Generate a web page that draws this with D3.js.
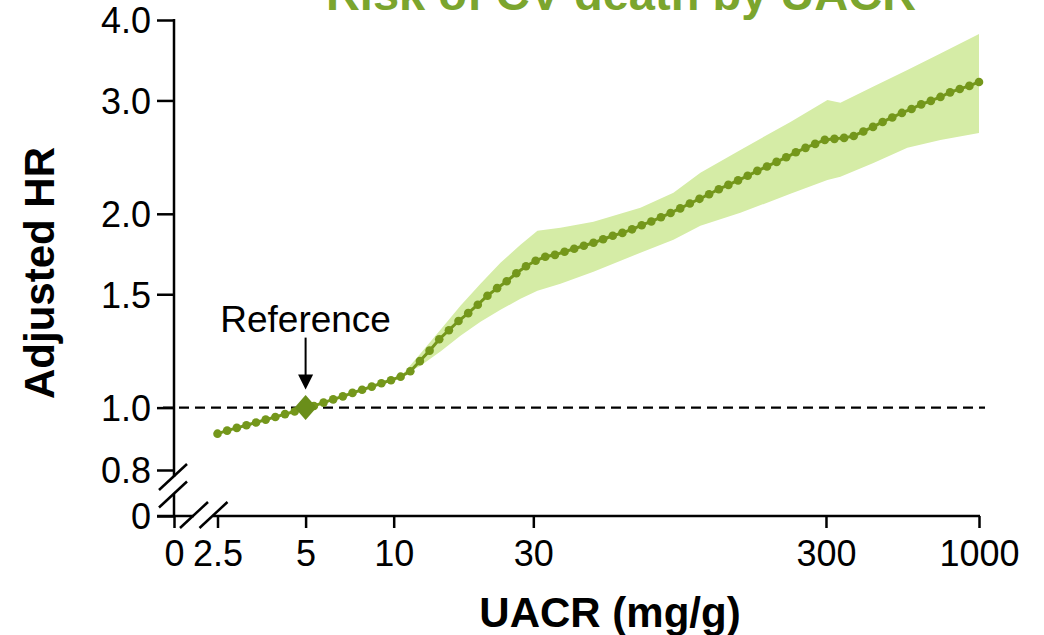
<!DOCTYPE html>
<html><head><meta charset="utf-8">
<script src="https://cdn.jsdelivr.net/npm/d3@7"></script>
<style>
body{margin:0;background:#fff}
text{font-family:"Liberation Sans",Arial,Helvetica,sans-serif}
</style>
</head><body>
<svg id="c" width="1044" height="635"></svg>
<script>
// ---------- DATA ----------
const uacr = [2.5,2.697,2.910,3.139,3.386,3.653,3.941,4.252,4.587,4.948,
  5.338,5.759,6.213,6.703,7.231,7.801,8.416,9.079,9.791,10.56,
  11.40,12.29,13.26,14.31,15.44,16.65,17.97,19.38,20.91,22.56,
  24.33,26.25,28.32,30.55,32.96,35.56,38.36,41.38,44.64,48.16,
  51.95,56.05,60.46,65.23,70.37,75.91,81.89,88.35,95.31,102.8,
  110.9,119.6,129.1,139.2,150.2,162.0,174.8,188.6,203.4,219.4,
  236.7,255.4,275.5,297.2,320.6,345.9,373.1,402.5,434.3,468.5,
  505.4,545.2,588.2,634.5,684.5,738.5,796.7,859.4,927.2,1000];
const hr = [0.911,0.921,0.930,0.939,0.948,0.958,0.967,0.977,0.986,0.996,
  1.006,1.018,1.030,1.041,1.054,1.066,1.078,1.091,1.103,1.117,
  1.139,1.181,1.226,1.277,1.319,1.363,1.402,1.445,1.492,1.533,
  1.571,1.617,1.658,1.691,1.715,1.727,1.746,1.765,1.784,1.803,
  1.826,1.849,1.868,1.892,1.920,1.946,1.975,2.006,2.039,2.075,
  2.110,2.145,2.184,2.218,2.254,2.291,2.332,2.369,2.408,2.448,
  2.492,2.532,2.568,2.605,2.615,2.624,2.642,2.685,2.729,2.778,
  2.823,2.869,2.910,2.958,2.995,3.038,3.088,3.126,3.160,3.205];
const ciUacr = [10.55,12.35,14.45,16.91,19.80,23.17,27.12,30.99,37.14,48.15,
  69.68,90.36,111.7,153.0,226.8,303.4,336.1,435.8,569.2,738.2,1000];
const ciLow  = [1.117,1.162,1.222,1.293,1.360,1.419,1.476,1.519,1.557,1.626,
  1.740,1.822,1.916,2.007,2.148,2.258,2.283,2.399,2.532,2.605,2.671];
const ciHigh = [1.117,1.213,1.321,1.439,1.557,1.679,1.790,1.882,1.902,1.944,
  2.043,2.156,2.316,2.513,2.778,3.006,2.974,3.154,3.345,3.548,3.805];
const yTicks = [0.8, 1.0, 1.5, 2.0, 3.0, 4.0];
const xTicks = [2.5, 5, 10, 30, 300, 1000];
const xTickLabels = ["2.5","5","10","30","300","1000"];
const refUacr = 5, refHr = 1.0;
const title = "Risk of CV death by UACR";
const xTitle = "UACR (mg/g)";
const yTitle = "Adjusted HR";
const refLabel = "Reference";

// ---------- LAYOUT ----------
const axisX = 174, axisY = 516;
const green = "#74971b", band = "#d5eca6", titleGreen = "#7ba52e";
const tickFont = 36;
const svg = d3.select("#c");

const x = d3.scaleLog().domain([2.5, 1000]).range([217.5, 979]);
const y = d3.scaleLog().domain([0.8, 4]).range([470, 20]);

// title (partly cut off at top, as in the reference)
svg.append("text").attr("x", 621).attr("y", 10).attr("text-anchor","middle")
  .attr("font-size", 47).attr("font-weight","bold").attr("fill", titleGreen).text(title);

// CI band
const bandData = ciUacr.map((u,i)=>({u, lo:ciLow[i], hi:ciHigh[i]}));
svg.append("path").datum(bandData)
  .attr("d", d3.area().x(d=>x(d.u)).y0(d=>y(d.lo)).y1(d=>y(d.hi)))
  .attr("fill", band).attr("stroke","none");

// dashed reference line
svg.append("line").attr("x1", 163).attr("x2", 985)
  .attr("y1", y(refHr)).attr("y2", y(refHr))
  .attr("stroke","#000").attr("stroke-width",2.2).attr("stroke-dasharray","10,6");

// curve + dots
const pts = uacr.map((u,i)=>({u, h:hr[i]}));
svg.append("path").datum(pts)
  .attr("d", d3.line().x(d=>x(d.u)).y(d=>y(d.h)))
  .attr("fill","none").attr("stroke", green).attr("stroke-width",3);
svg.selectAll("circle.pt").data(pts).join("circle").attr("class","pt")
  .attr("cx", d=>x(d.u)).attr("cy", d=>y(d.h)).attr("r", 4.3).attr("fill", green);

// reference diamond
const rx = x(refUacr), ry = y(refHr);
svg.append("path")
  .attr("d", `M${rx},${ry-12.5}L${rx+11},${ry}L${rx},${ry+12.5}L${rx-11},${ry}Z`)
  .attr("fill", "#6a8e1a");

// annotation
svg.append("text").attr("x", rx).attr("y", ry-76).attr("text-anchor","middle")
  .attr("font-size", 37).attr("fill","#000").text(refLabel);
svg.append("line").attr("x1", rx).attr("x2", rx).attr("y1", ry-70).attr("y2", ry-30)
  .attr("stroke","#000").attr("stroke-width",2);
svg.append("path").attr("d", `M${rx-7.5},${ry-33}L${rx+7.5},${ry-33}L${rx},${ry-18}Z`).attr("fill","#000");

// ---------- AXES ----------
const yAxis = d3.axisLeft(y).tickValues(yTicks).tickFormat(d3.format(".1f")).tickSize(17).tickPadding(6);
const gy = svg.append("g").attr("transform", `translate(${axisX},0)`).call(yAxis);
gy.select(".domain").remove();
const xAxis = d3.axisBottom(x).tickValues(xTicks).tickFormat((d,i)=>xTickLabels[i]).tickSize(12).tickPadding(12);
const gx = svg.append("g").attr("transform", `translate(0,${axisY})`).call(xAxis);
gx.select(".domain").remove();

// zero ticks (broken axes)
const zeroY = d3.scalePoint().domain(["0"]).range([axisY, axisY]);
const gy0 = svg.append("g").attr("transform", `translate(${axisX},0)`)
  .call(d3.axisLeft(zeroY).tickSize(17).tickPadding(6));
const zeroX = d3.scalePoint().domain(["0"]).range([axisX, axisX]);
const gx0 = svg.append("g").attr("transform", `translate(0,${axisY})`)
  .call(d3.axisBottom(zeroX).tickSize(12).tickPadding(12));
[gy, gx, gy0, gx0].forEach(g=>{
  g.select(".domain").remove();
  g.selectAll("text").attr("font-size",tickFont).attr("fill","#000")
   .style("font-family",'"Liberation Sans",Arial,sans-serif');
  g.selectAll("line").attr("stroke","#000").attr("stroke-width",2.5);
});
gy.selectAll("text").attr("dy","0.36em");
gy0.selectAll("text").attr("dy","0.36em");

// axis lines with breaks
const ax = svg.append("g").attr("stroke","#000").attr("stroke-width",2.5).attr("fill","none");
ax.append("line").attr("x1",axisX).attr("x2",axisX).attr("y1",y(4)-1).attr("y2",477);
ax.append("line").attr("x1",axisX).attr("x2",axisX).attr("y1",494).attr("y2",axisY);
ax.append("line").attr("x1",157).attr("x2",194).attr("y1",axisY).attr("y2",axisY);
ax.append("line").attr("x1",213).attr("x2",x(1000)+1).attr("y1",axisY).attr("y2",axisY);
// break slashes
const slash = (cx, cy)=> ax.append("line").attr("x1",cx-14).attr("y1",cy+13).attr("x2",cx+14).attr("y2",cy-13);
slash(173, 477); slash(173, 494.5);
slash(194, 515); slash(213.5, 515);

// axis titles
svg.append("text").attr("transform","translate(54,273) rotate(-90)").attr("text-anchor","middle")
  .attr("font-size",42).attr("font-weight","bold").attr("fill","#000").text(yTitle);
svg.append("text").attr("x",610).attr("y",627).attr("text-anchor","middle")
  .attr("font-size",42).attr("font-weight","bold").attr("fill","#000").text(xTitle);
</script>
</body></html>
